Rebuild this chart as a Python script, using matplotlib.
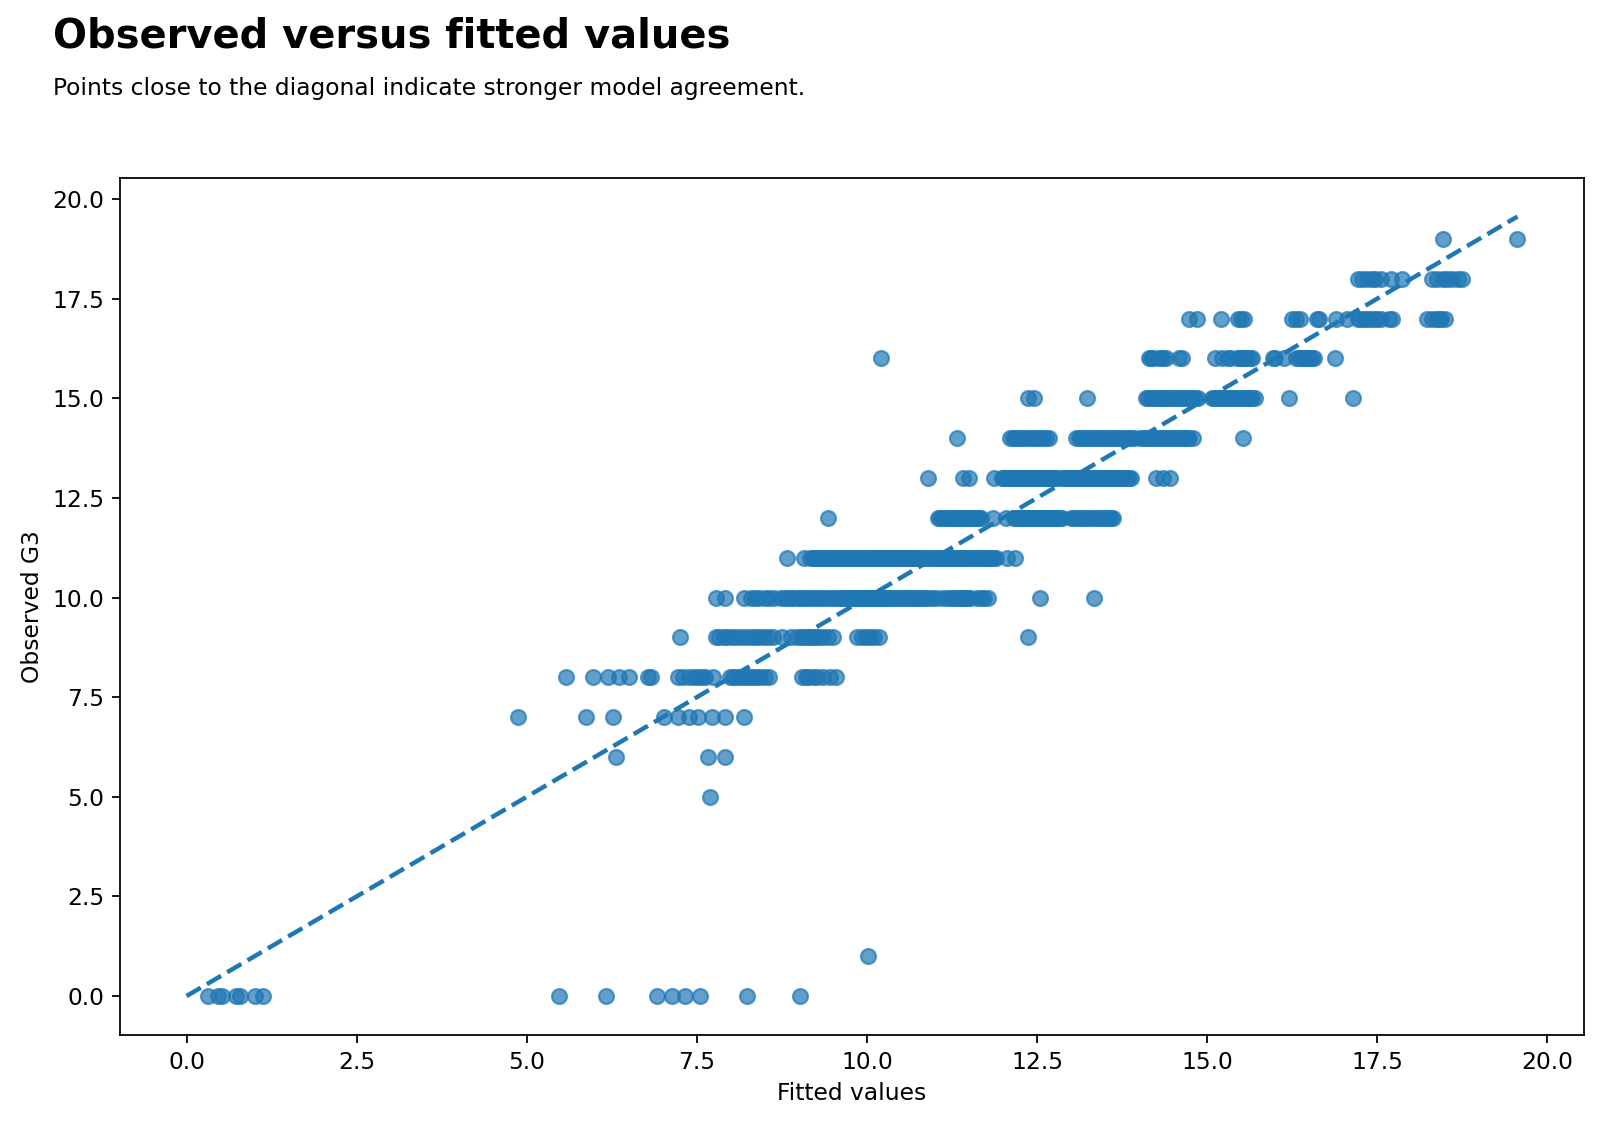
import numpy as np
import matplotlib
matplotlib.use("Agg")
import matplotlib.pyplot as plt

# observed G3 grades, and the fitted values of the students in each grade
grades = [0, 1, 5, 6, 7, 8, 9, 10, 11, 12, 13, 14, 15, 16, 17, 18, 19]

fitted_g0 = [0.31, 0.46, 0.52, 0.72, 0.78, 1.00, 1.12,
             5.47, 6.16, 6.91, 7.14, 7.33, 7.54, 8.23, 9.01]
fitted_g1 = [10.02]
fitted_g5 = [7.69]
fitted_g6 = [6.31, 7.66, 7.91]
fitted_g7 = [4.87, 5.87, 6.27, 7.01, 7.22, 7.38, 7.51, 7.72, 7.91, 8.20]
fitted_g8 = [5.58, 5.97, 6.19, 6.36, 6.50, 6.78, 6.82,
             7.22, 7.30, 7.38, 7.46, 7.52, 7.57, 7.62, 7.73,
             7.98, 8.03, 8.08, 8.13, 8.18, 8.23, 8.28, 8.33, 8.38, 8.43, 8.50, 8.56,
             9.04, 9.10, 9.14, 9.20, 9.27, 9.35, 9.45, 9.55]
fitted_g9 = [7.25,
             7.78, 7.83, 7.90, 7.95, 8.02, 8.08, 8.15, 8.22, 8.30, 8.36, 8.42, 8.48, 8.55, 8.62,
             8.75, 8.88,
             8.97, 9.03, 9.08, 9.12, 9.16, 9.20, 9.25, 9.30, 9.36, 9.42, 9.50,
             9.85, 9.92, 9.98, 10.04, 10.10, 10.18,
             12.36]
fitted_g10 = [7.78, 7.92, 8.19, 8.29, 8.36, 8.42, 8.50, 8.56, 8.63,
              8.74, 8.79, 8.83, 8.88, 8.92, 8.97, 9.01, 9.05, 9.09, 9.13,
              9.18, 9.22, 9.27, 9.31, 9.36, 9.41, 9.45, 9.50, 9.54, 9.59,
              9.62, 9.64, 9.67, 9.70, 9.72, 9.75, 9.77, 9.80, 9.82, 9.85,
              9.87, 9.89, 9.92, 9.94, 9.96, 9.99, 10.01, 10.03, 10.05, 10.08,
              10.10, 10.12, 10.15, 10.17, 10.19, 10.21, 10.24, 10.26, 10.28, 10.30,
              10.34, 10.37, 10.40, 10.44, 10.47, 10.50, 10.54, 10.57, 10.60,
              10.63, 10.67, 10.70, 10.73, 10.76, 10.79, 10.83, 10.86, 10.89,
              10.95, 11.01, 11.10, 11.17, 11.22, 11.26, 11.30,
              11.33, 11.36, 11.39, 11.42, 11.45, 11.48, 11.52,
              11.62, 11.67, 11.72, 11.78,
              12.55, 13.33]
fitted_g11 = [8.83, 9.07,
              9.17, 9.20, 9.23, 9.26, 9.29, 9.32, 9.35, 9.38, 9.41, 9.44,
              9.46, 9.49, 9.52, 9.55, 9.58, 9.61, 9.63, 9.66, 9.69, 9.72,
              9.75, 9.77, 9.80, 9.83, 9.86, 9.88, 9.91, 9.94, 9.96, 9.99,
              10.02, 10.04, 10.07, 10.09, 10.11, 10.14, 10.16, 10.18, 10.21, 10.23,
              10.25, 10.28, 10.30, 10.32, 10.35, 10.37, 10.39, 10.42, 10.44, 10.46,
              10.49, 10.51, 10.53, 10.56, 10.58, 10.60, 10.63, 10.65, 10.67, 10.70,
              10.72, 10.74, 10.76, 10.78, 10.80,
              10.84, 10.87, 10.91, 10.94, 10.97, 11.01, 11.04, 11.07, 11.10, 11.13,
              11.16, 11.19, 11.22, 11.25, 11.28, 11.31, 11.34, 11.37, 11.40, 11.43,
              11.46, 11.49, 11.52, 11.55, 11.58, 11.61, 11.64, 11.67, 11.70, 11.73,
              11.76, 11.79, 11.82, 11.86, 11.90,
              12.06, 12.18]
fitted_g12 = [9.43,
              11.05, 11.08, 11.11, 11.14, 11.17, 11.20, 11.23, 11.26, 11.29, 11.32, 11.35,
              11.38, 11.41, 11.44, 11.47, 11.50, 11.53, 11.56, 11.59, 11.62, 11.65, 11.68,
              11.85, 12.04,
              12.16, 12.18, 12.21, 12.23, 12.25, 12.28, 12.30, 12.33, 12.35, 12.37,
              12.40, 12.42, 12.45, 12.47, 12.49, 12.52, 12.54, 12.57, 12.59, 12.61,
              12.64, 12.66, 12.69, 12.71, 12.73, 12.76, 12.78, 12.80, 12.83, 12.86,
              13.00, 13.04, 13.08, 13.12, 13.16, 13.20, 13.24, 13.28, 13.32, 13.36,
              13.40, 13.44, 13.48, 13.52, 13.56, 13.59, 13.62]
fitted_g13 = [10.89, 11.41, 11.50, 11.87,
              11.98, 12.00, 12.03, 12.05, 12.08, 12.10, 12.12, 12.15, 12.17, 12.20,
              12.22, 12.24, 12.27, 12.29, 12.32, 12.34, 12.36, 12.39, 12.41, 12.44,
              12.46, 12.48, 12.51, 12.53, 12.56, 12.58, 12.60, 12.63, 12.65, 12.68,
              12.70, 12.72, 12.75, 12.77, 12.80,
              12.86, 12.89, 12.91, 12.94, 12.96, 12.99, 13.02, 13.04, 13.07, 13.09,
              13.12, 13.15, 13.17, 13.20, 13.22, 13.25, 13.28, 13.30, 13.33, 13.35,
              13.38, 13.41, 13.43, 13.46, 13.48, 13.51, 13.54, 13.56, 13.59, 13.61,
              13.64, 13.66, 13.69, 13.72, 13.74, 13.77, 13.79, 13.82, 13.85, 13.88,
              14.25, 14.35, 14.45]
fitted_g14 = [11.32,
              12.10, 12.14, 12.18, 12.22, 12.26, 12.30, 12.34, 12.38, 12.42, 12.46,
              12.50, 12.54, 12.58, 12.63, 12.68,
              13.07, 13.11, 13.15, 13.19, 13.23, 13.27, 13.31, 13.35, 13.38, 13.42,
              13.46, 13.50, 13.53, 13.57, 13.61, 13.64, 13.68, 13.72, 13.76, 13.80,
              13.84, 13.88, 13.92,
              14.02, 14.05, 14.09, 14.12, 14.16, 14.19, 14.23, 14.26, 14.30, 14.33,
              14.37, 14.40, 14.44, 14.47, 14.50, 14.54, 14.57, 14.61, 14.64, 14.67,
              14.70, 14.73,
              14.79, 15.53]
fitted_g15 = [12.36, 12.45, 13.23,
              14.10, 14.13, 14.17, 14.20, 14.23, 14.27, 14.30, 14.33, 14.37, 14.40,
              14.43, 14.47, 14.50, 14.53, 14.57, 14.60, 14.63, 14.66, 14.70, 14.73,
              14.76, 14.79, 14.82, 14.86,
              15.07, 15.10, 15.13, 15.17, 15.20, 15.23, 15.27, 15.30, 15.33, 15.37,
              15.40, 15.43, 15.47, 15.50, 15.53, 15.57, 15.60, 15.63, 15.66, 15.70,
              16.20, 17.15]
fitted_g16 = [10.20,
              14.14, 14.18, 14.21, 14.29, 14.32, 14.35, 14.39, 14.58, 14.63,
              15.12, 15.22, 15.30, 15.34, 15.44, 15.48, 15.51, 15.52, 15.55, 15.59,
              15.63, 15.66, 15.96, 16.00, 16.13,
              16.30, 16.35, 16.38, 16.40, 16.42, 16.46, 16.48, 16.50, 16.54, 16.57,
              16.88]
fitted_g17 = [14.73, 14.85, 15.21, 15.45, 15.49, 15.54, 16.25, 16.30, 16.37,
              16.62, 16.64, 16.89, 17.06,
              17.21, 17.25, 17.30, 17.35, 17.40, 17.45, 17.50, 17.55, 17.67, 17.72,
              18.23, 18.30, 18.36, 18.40, 18.43, 18.50]
fitted_g18 = [17.21, 17.28, 17.35, 17.42, 17.47, 17.55, 17.70, 17.87,
              18.30, 18.38, 18.46, 18.53, 18.60, 18.68, 18.75]
fitted_g19 = [18.46, 19.56]

fitted_lists = [fitted_g0, fitted_g1, fitted_g5, fitted_g6, fitted_g7, fitted_g8,
                fitted_g9, fitted_g10, fitted_g11, fitted_g12, fitted_g13, fitted_g14,
                fitted_g15, fitted_g16, fitted_g17, fitted_g18, fitted_g19]

fitted = np.concatenate([np.array(f, dtype=float) for f in fitted_lists])
observed = np.repeat(np.array(grades, dtype=float), [len(f) for f in fitted_lists])

plt.rcParams["font.size"] = 10.5

fig = plt.figure(figsize=(10, 7.0375), dpi=160)
ax = fig.add_axes([0.075, 0.0808, 0.915, 0.7615])

ax.scatter(fitted, observed, alpha=0.7, s=45)

# diagonal of perfect agreement
lims = [min(fitted.min(), observed.min()), max(fitted.max(), observed.max())]
ax.plot(lims, lims, linestyle="--", linewidth=2)

ax.set_xlabel("Fitted values")
ax.set_ylabel("Observed G3")

fig.text(0.033, 0.985, "Observed versus fitted values", fontsize=18,
         fontweight="bold", va="top", ha="left")
fig.text(0.033, 0.932, "Points close to the diagonal indicate stronger model agreement.",
         fontsize=10.5, va="top", ha="left")

fig.savefig("out.png", dpi=160)
